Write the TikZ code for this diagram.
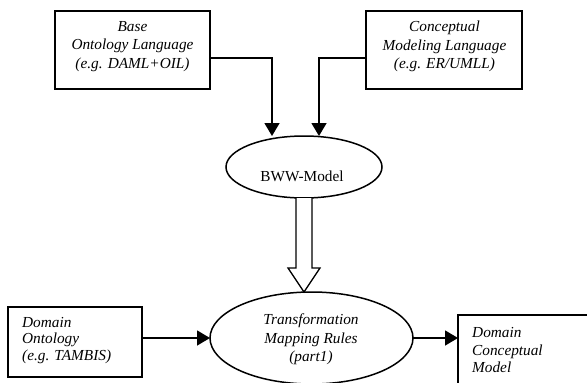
\documentclass[tikz,border=0pt]{standalone}
\usepackage{fontspec}
\setmainfont{Liberation Serif}
\usetikzlibrary{arrows.meta,calc,shapes.geometric}
\begin{document}
\begin{tikzpicture}[x=1pt,y=-1pt,
  box/.style={draw,line width=1.5pt,inner sep=0pt,outer sep=0pt},
  oval/.style={draw,ellipse,line width=1.5pt,inner sep=0pt,outer sep=0pt},
  lbl/.style={font=\fontsize{15.3pt}{18.5pt}\selectfont\itshape,inner sep=0pt,align=center},
  arr/.style={line width=1.5pt,-{Triangle[length=13pt,width=15pt]}}]
\useasboundingbox (0,0) rectangle (587,383);
\clip (0,0) rectangle (587,383);
% top boxes
\node[box,minimum width=155pt,minimum height=78pt] (base) at (132.5,50) {};
\node[lbl] (baset) at (132.5,46.5) {Base\\Ontology Language\\(e.g. DAML+OIL)};
\node[box,minimum width=156pt,minimum height=78pt] (concept) at (444,50) {};
\node[lbl] (conceptt) at (444.5,46.5) {Conceptual\\Modeling Language\\(e.g. ER/UMLL)};
% BWW
\node[oval,minimum width=156pt,minimum height=62pt] (bww) at (304,167) {};
\node[font=\fontsize{15.3pt}{18pt}\selectfont,inner sep=0pt] (bwwt) at (302,176) {BWW-Model};
% Transformation
\node[oval,minimum width=203pt,minimum height=92pt] (tr) at (311.5,338) {};
\node[lbl] (trt) at (311,339.5) {Transformation\\Mapping Rules\\(part1)};
% Domain ontology
\node[box,minimum width=134pt,minimum height=70pt] (dom) at (75,342) {};
\node[lbl,align=left,anchor=west,font=\fontsize{15.3pt}{16.5pt}\selectfont\itshape] (domt) at (22,340.5) {Domain\\Ontology\\(e.g. TAMBIS)};
% Domain conceptual model
\node[box,minimum width=150pt,minimum height=90pt,anchor=north west] (dcm) at (458,315) {};
\node[lbl,align=left,anchor=west,font=\fontsize{15.3pt}{17.5pt}\selectfont\itshape] (dcmt) at (472,350.5) {Domain\\Conceptual\\Model};
% connectors
\draw[arr] ([yshift=-8pt]base.east) -| ([xshift=-32pt]bww.north);
\draw[arr] ([yshift=-8pt]concept.west) -| ([xshift=15pt]bww.north);
\coordinate (tip) at (bww.south |- tr.north);
\draw[line width=1.3pt,fill=white,line join=miter]
  ($(bww.south)+(-8,0)$) -- ($(tip)+(-8,-24)$) -- ($(tip)+(-16,-24)$) -- (tip)
  -- ($(tip)+(16,-24)$) -- ($(tip)+(8,-24)$) -- ($(bww.south)+(8,0)$);
\draw[arr] (tr.west -| dom.east) -- (tr.west);
\draw[arr] (tr.east) -- (tr.east -| dcm.west);
\end{tikzpicture}
\end{document}
